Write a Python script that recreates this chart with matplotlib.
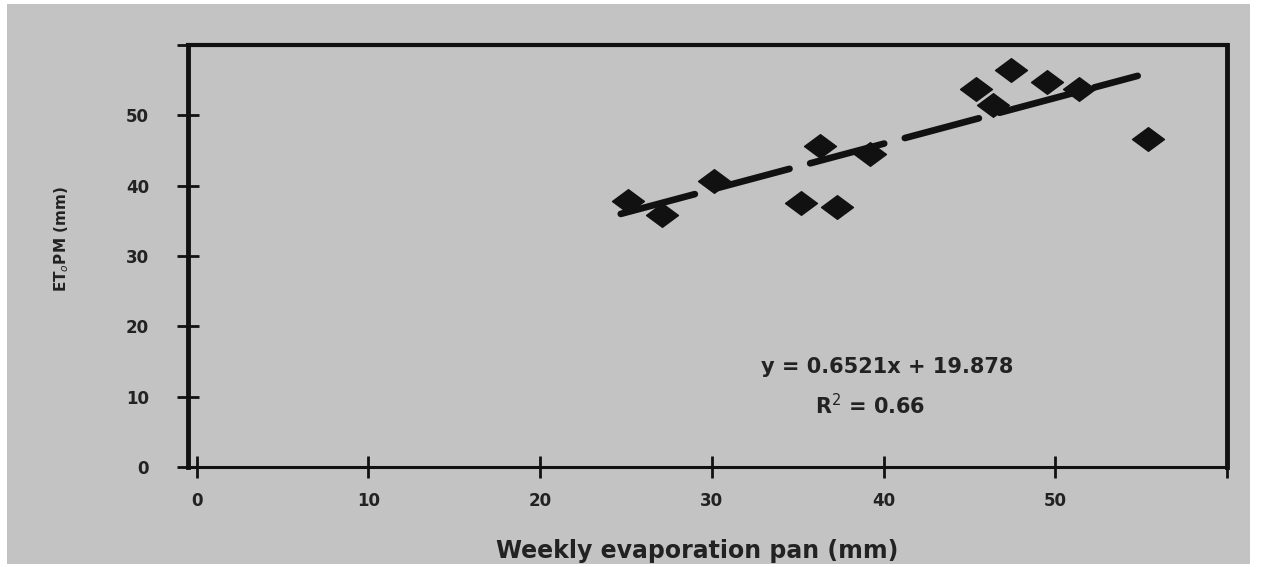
import numpy as np
import matplotlib.pyplot as plt
from matplotlib.patches import Rectangle
from matplotlib.path import Path

# weekly pan evaporation (mm) vs ETo Penman-Monteith (mm)
pan = [25.1, 27.1, 30.1, 35.2, 37.3, 36.3, 39.2, 45.4, 47.4, 46.4, 49.5, 51.4, 55.4]
eto = [37.8, 35.8, 40.6, 37.6, 36.9, 45.7, 44.5, 53.8, 56.4, 51.4, 54.7, 53.8, 46.6]
slope, intercept = 0.6521, 19.878
fit_range = [24.7, 54.8]
xticks = [0, 10, 20, 30, 40, 50, 60]
xticklabels = ['0', '10', '20', '30', '40', '50', '']
yticks = [0, 10, 20, 30, 40, 50, 60]
yticklabels = ['0', '10', '20', '30', '40', '50', '']

bg = '#c3c3c3'
fig = plt.figure(figsize=(12.68, 5.67), dpi=100, facecolor='white')
fig.patches.append(Rectangle((7 / 1268, 3 / 567), 1243 / 1268, 560 / 567,
                             transform=fig.transFigure, facecolor=bg,
                             edgecolor='none', zorder=-10))
ax = fig.add_axes([188 / 1268, 1 - 467 / 567, (1227 - 188) / 1268, (467 - 45) / 567])
ax.set_facecolor(bg)

# squashed diamond marker, as in the photo
diamond = Path([(-1, 0), (0, 0.74), (1, 0), (0, -0.74), (-1, 0)],
               [Path.MOVETO, Path.LINETO, Path.LINETO, Path.LINETO, Path.CLOSEPOLY])
ax.plot(pan, eto, linestyle='none', marker=diamond, markersize=23,
        color='#111111', zorder=3)

xf = np.array(fit_range)
ax.plot(xf, slope * xf + intercept, color='#111111', linewidth=4.8,
        dashes=(11.5, 3.2), solid_capstyle='round', dash_capstyle='round', zorder=2)

ax.text(40.2, 14.2, 'y = 0.6521x + 19.878', ha='center', va='center',
        fontsize=15, fontweight='bold', color='#222222')
ax.text(39.2, 8.8, 'R$^{2}$ = 0.66', ha='center', va='center',
        fontsize=15, fontweight='bold', color='#222222')

ax.set_xlim(-0.5, 60)
ax.set_ylim(0, 60)
ax.set_xticks(xticks, xticklabels)
ax.set_yticks(yticks, yticklabels)
ax.tick_params(direction='inout', length=16, width=2, colors='#111111',
               labelsize=12, pad=10)
ax.tick_params(axis='y', pad=20)
for lab in ax.get_xticklabels() + ax.get_yticklabels():
    lab.set_fontweight('bold')
    lab.set_color('#222222')

ax.spines['left'].set_linewidth(3.5)
ax.spines['right'].set_linewidth(3.5)
ax.spines['top'].set_linewidth(3)
ax.spines['bottom'].set_linewidth(2.2)
for s in ax.spines.values():
    s.set_color('#111111')

ax.set_xlabel('Weekly evaporation pan (mm)', fontsize=17, fontweight='bold',
              color='#222222')
ax.xaxis.set_label_coords(0.49, -0.17)
ax.set_ylabel('ET$_{o}$PM (mm)', fontsize=11, fontweight='bold',
              color='#222222')
ax.yaxis.set_label_coords(-0.113, 0.54)

plt.savefig('out.png', dpi=100, facecolor=fig.get_facecolor())
